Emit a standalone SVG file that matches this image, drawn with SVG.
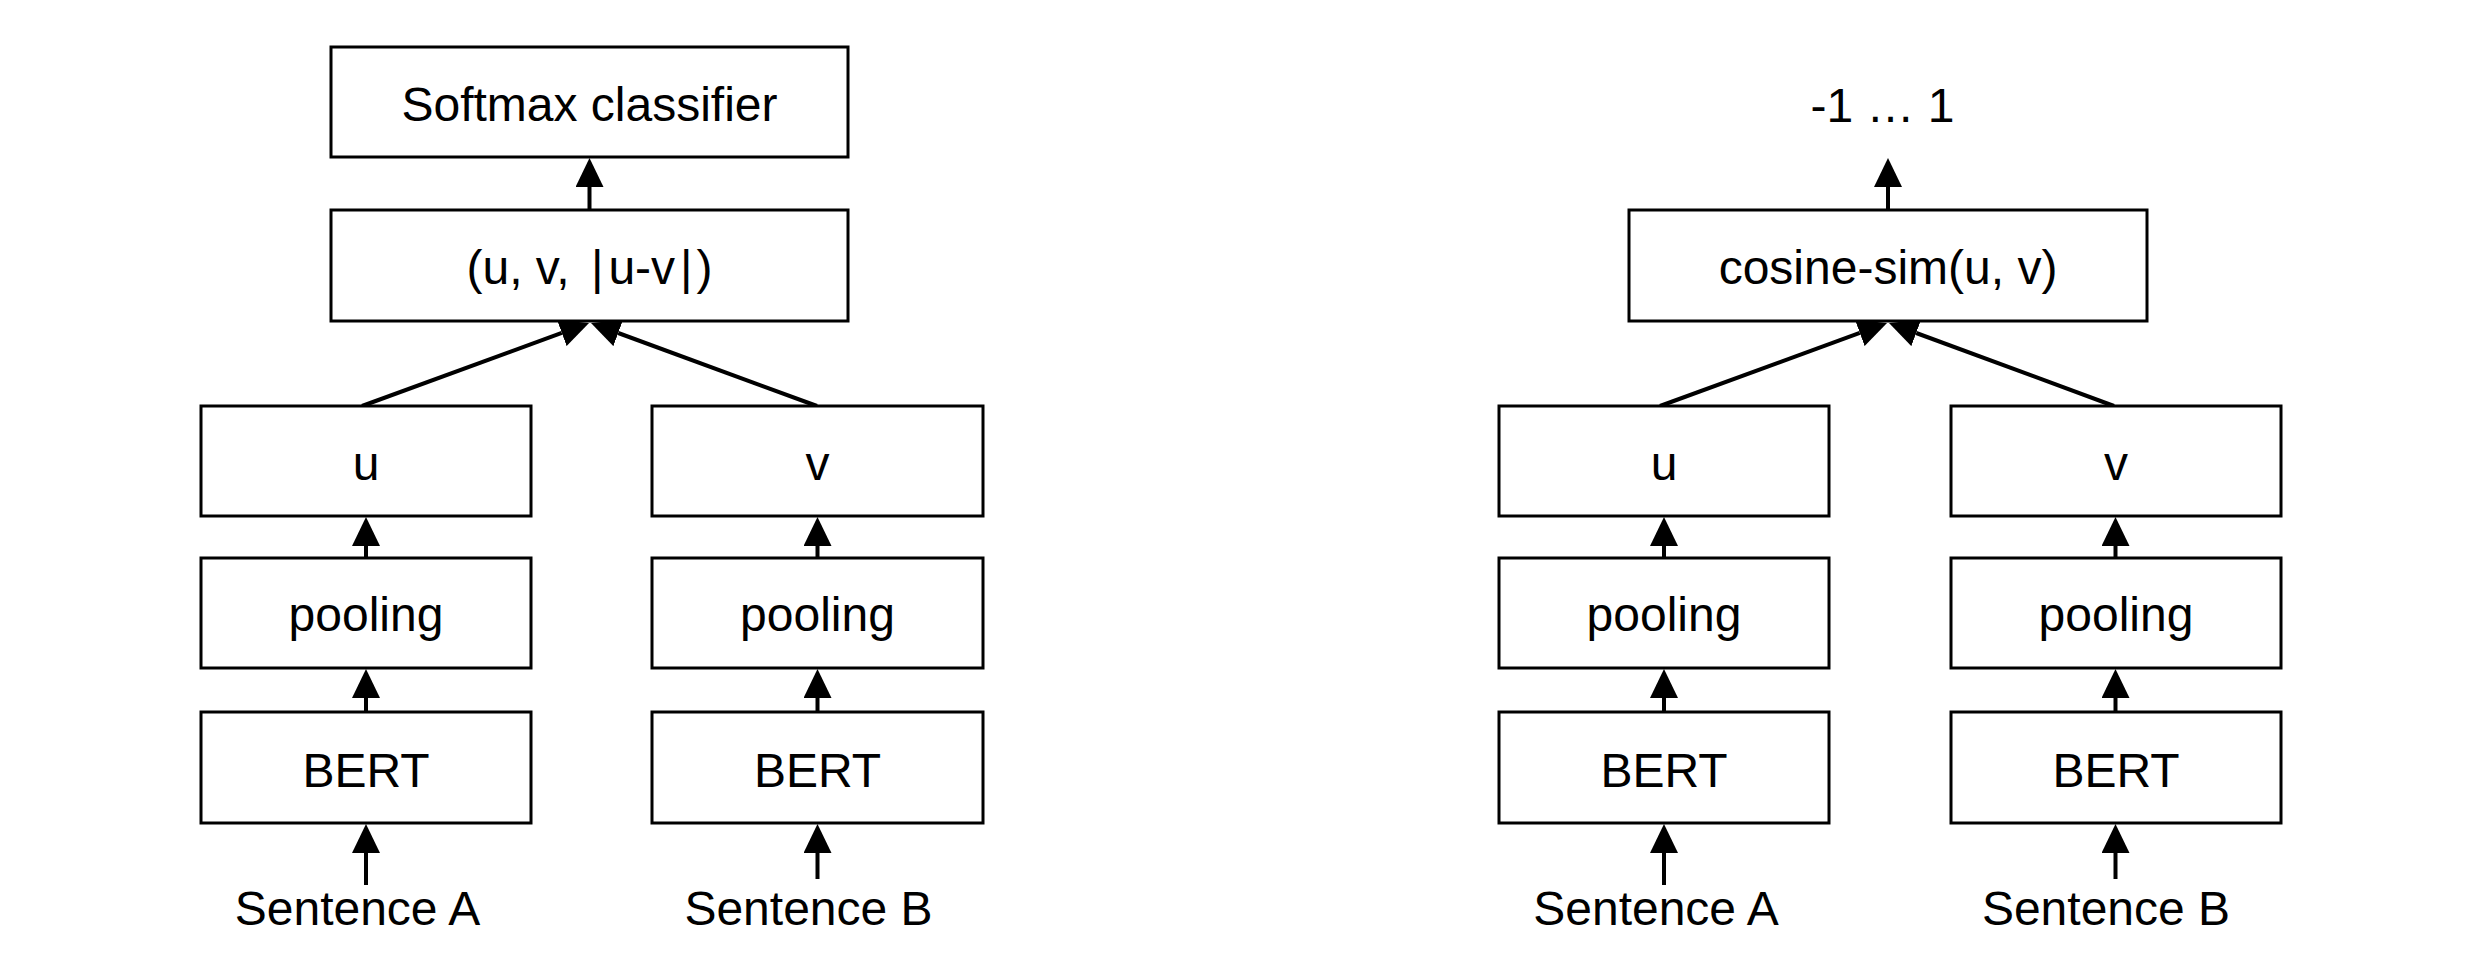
<svg xmlns="http://www.w3.org/2000/svg" width="2472" height="958" viewBox="0 0 2472 958">
<defs>
<marker id="ah" markerUnits="userSpaceOnUse" markerWidth="29" markerHeight="28" viewBox="0 0 29 28" refX="0" refY="14" orient="auto">
<path d="M0,0 L29,14 L0,28 Z" fill="#000"/>
</marker>
<style>
.box{fill:#fff;stroke:#000;stroke-width:3}
.lbl{font-family:"Liberation Sans",Arial,sans-serif;font-size:48px;fill:#000;text-anchor:middle}
.conn{stroke:#000;stroke-width:4;fill:none;marker-end:url(#ah)}
</style>
</defs>
<rect width="2472" height="958" fill="#fff"/>

<g id="connectors">
<line class="conn" x1="589.5" y1="210" x2="589.5" y2="187"/>
<line class="conn" x1="362" y1="406" x2="561.8" y2="332.9"/>
<line class="conn" x1="817" y1="406" x2="618.2" y2="333"/>
<line class="conn" x1="366" y1="558" x2="366" y2="546"/>
<line class="conn" x1="366" y1="712" x2="366" y2="698"/>
<line class="conn" x1="366" y1="885" x2="366" y2="853"/>
<line class="conn" x1="817.5" y1="558" x2="817.5" y2="546"/>
<line class="conn" x1="817.5" y1="712" x2="817.5" y2="698"/>
<line class="conn" x1="817.5" y1="879" x2="817.5" y2="853"/>
<line class="conn" x1="1888" y1="210" x2="1888" y2="187"/>
<line class="conn" x1="1660" y1="406" x2="1859.8" y2="332.9"/>
<line class="conn" x1="2114" y1="406" x2="1916.2" y2="333"/>
<line class="conn" x1="1664" y1="558" x2="1664" y2="546"/>
<line class="conn" x1="1664" y1="712" x2="1664" y2="698"/>
<line class="conn" x1="1664" y1="885" x2="1664" y2="853"/>
<line class="conn" x1="2115.5" y1="558" x2="2115.5" y2="546"/>
<line class="conn" x1="2115.5" y1="712" x2="2115.5" y2="698"/>
<line class="conn" x1="2115.5" y1="879" x2="2115.5" y2="853"/>
</g>

<g id="softmax"><rect class="box" x="331" y="47" width="517" height="110"/><text class="lbl" x="589.5" y="121">Softmax classifier</text></g>
<g id="concat"><rect class="box" x="331" y="210" width="517" height="111"/><text class="lbl" x="589.5" y="284">(u, v, <tspan dx="8">|</tspan><tspan dx="5">u-v</tspan><tspan dx="5">|</tspan><tspan dx="4">)</tspan></text></g>
<g id="left-u"><rect class="box" x="201" y="406" width="330" height="110"/><text class="lbl" x="366" y="480">u</text></g>
<g id="left-pool-a"><rect class="box" x="201" y="558" width="330" height="110"/><text class="lbl" x="366" y="631">pooling</text></g>
<g id="left-bert-a"><rect class="box" x="201" y="712" width="330" height="111"/><text class="lbl" x="366" y="787">BERT</text></g>
<g id="left-sent-a"><text class="lbl" x="357.5" y="925">Sentence A</text></g>
<g id="left-v"><rect class="box" x="652" y="406" width="331" height="110"/><text class="lbl" x="817.5" y="480">v</text></g>
<g id="left-pool-b"><rect class="box" x="652" y="558" width="331" height="110"/><text class="lbl" x="817.5" y="631">pooling</text></g>
<g id="left-bert-b"><rect class="box" x="652" y="712" width="331" height="111"/><text class="lbl" x="817.5" y="787">BERT</text></g>
<g id="left-sent-b"><text class="lbl" x="808.5" y="925">Sentence B</text></g>

<g id="range"><text class="lbl" x="1882.5" y="122">-1 … 1</text></g>
<g id="cosine"><rect class="box" x="1629" y="210" width="518" height="111"/><text class="lbl" x="1888" y="284">cosine-sim(u, v)</text></g>
<g id="right-u"><rect class="box" x="1499" y="406" width="330" height="110"/><text class="lbl" x="1664" y="480">u</text></g>
<g id="right-pool-a"><rect class="box" x="1499" y="558" width="330" height="110"/><text class="lbl" x="1664" y="631">pooling</text></g>
<g id="right-bert-a"><rect class="box" x="1499" y="712" width="330" height="111"/><text class="lbl" x="1664" y="787">BERT</text></g>
<g id="right-sent-a"><text class="lbl" x="1656" y="925">Sentence A</text></g>
<g id="right-v"><rect class="box" x="1951" y="406" width="330" height="110"/><text class="lbl" x="2116" y="480">v</text></g>
<g id="right-pool-b"><rect class="box" x="1951" y="558" width="330" height="110"/><text class="lbl" x="2116" y="631">pooling</text></g>
<g id="right-bert-b"><rect class="box" x="1951" y="712" width="330" height="111"/><text class="lbl" x="2116" y="787">BERT</text></g>
<g id="right-sent-b"><text class="lbl" x="2106" y="925">Sentence B</text></g>
</svg>
